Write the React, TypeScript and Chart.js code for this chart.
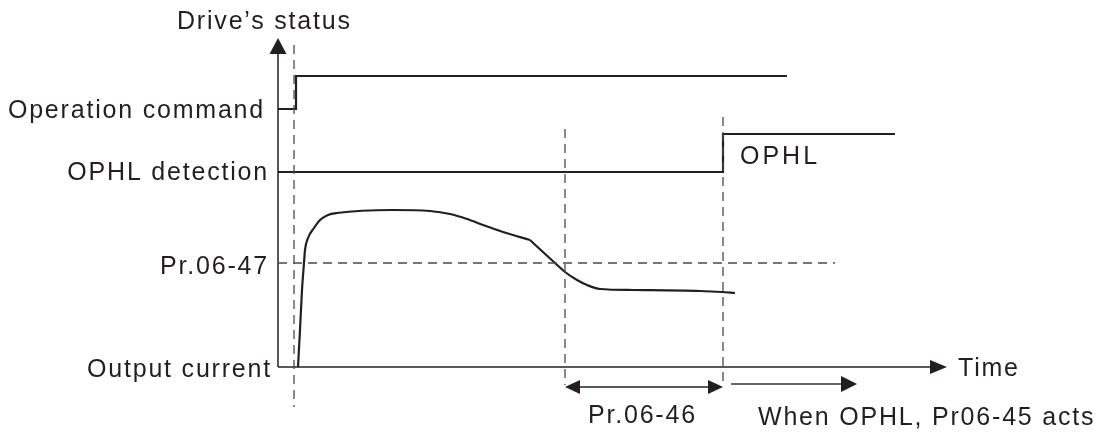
import React, { useEffect, useRef } from "react";
import { Chart, registerables } from "chart.js";

Chart.register(...registerables);

// ---- Data (schematic units: time from the origin of the time axis, level above it) ----
const opCmdTime = [0, 18, 18, 509];
const opCmdLevel = [258, 258, 291, 291];

const ophlTime = [0, 445, 445, 617];
const ophlLevel = [195, 195, 233, 233];

const riseTime = [20, 22, 24, 26, 27, 30, 36, 42, 50, 59, 115, 152, 172, 189, 205, 225, 252];
const riseCurrent = [0, 37, 77, 104, 117, 129, 139, 147, 152, 154, 157, 156, 153, 148, 142, 135, 127];

const fallTime = [252, 277, 287, 299, 309, 322, 355, 422, 444, 457];
const fallCurrent = [127, 104, 95, 87, 82, 78, 77, 76, 75, 74];

const thresholdLevel = 104; // Pr.06-47
const thresholdSpan = [0, 557];

const runTime = 16; // operation command
const detectTime = 287; // current below Pr.06-47
const tripTime = 445; // OPHL acts

const pr0646Span = [detectTime, tripTime];
const actSpan = [453, 579];

const timeAxisEnd = 669;
const statusAxisEnd = 329;

const labels = {
  status: "Drive\u2019s status",
  opCmd: "Operation command",
  ophlDet: "OPHL detection",
  pr0647: "Pr.06-47",
  current: "Output current",
  time: "Time",
  ophl: "OPHL",
  pr0646: "Pr.06-46",
  acts: "When OPHL, Pr06-45 acts",
};

// ---- Styles ----
const INK = "#231f20";
const DASH = "#4a4a4a";
const FONT = '25px "Liberation Sans", Arial, sans-serif';

const zip = (xs: number[], ys: number[]) => xs.map((x, i) => ({ x, y: ys[i] }));

function arrowHead(
  ctx: CanvasRenderingContext2D,
  tx: number,
  ty: number,
  angle: number,
  len: number,
  half: number,
  color: string
) {
  const c = Math.cos(angle);
  const s = Math.sin(angle);
  const bx = tx - c * len;
  const by = ty - s * len;
  ctx.beginPath();
  ctx.moveTo(tx, ty);
  ctx.lineTo(bx - s * half, by + c * half);
  ctx.lineTo(bx + s * half, by - c * half);
  ctx.closePath();
  ctx.fillStyle = color;
  ctx.fill();
}

const annotationPlugin = {
  id: "timingAnnotations",
  afterDatasetsDraw(chart: any) {
    const { ctx } = chart;
    const xs = chart.scales.x;
    const ys = chart.scales.y;
    const px = (v: number) => xs.getPixelForValue(v);
    const py = (v: number) => ys.getPixelForValue(v);
    ctx.save();

    // Axis arrowheads
    arrowHead(ctx, px(0), py(statusAxisEnd), -Math.PI / 2, 16, 8.5, INK);
    arrowHead(ctx, px(timeAxisEnd), py(0), 0, 17, 7, INK);

    // Pr.06-46 dimension arrow
    const yDim = py(-20);
    ctx.strokeStyle = INK;
    ctx.lineWidth = 1.6;
    ctx.beginPath();
    ctx.moveTo(px(pr0646Span[0]) + 10, yDim);
    ctx.lineTo(px(pr0646Span[1]) - 10, yDim);
    ctx.stroke();
    arrowHead(ctx, px(pr0646Span[0]), yDim, Math.PI, 15, 7, INK);
    arrowHead(ctx, px(pr0646Span[1]), yDim, 0, 15, 7, INK);

    // Action arrow
    const yAct = py(-17);
    ctx.strokeStyle = "#666";
    ctx.lineWidth = 1.8;
    ctx.beginPath();
    ctx.moveTo(px(actSpan[0]), yAct);
    ctx.lineTo(px(actSpan[1]) - 10, yAct);
    ctx.stroke();
    arrowHead(ctx, px(actSpan[1]), yAct, 0, 16, 8, INK);

    // Texts
    ctx.fillStyle = INK;
    ctx.font = FONT;
    (ctx as any).letterSpacing = "1.8px";
    ctx.textBaseline = "alphabetic";

    const text = (t: string, x: number, y: number, align: CanvasTextAlign) => {
      ctx.textAlign = align;
      ctx.fillText(t, px(x), py(y));
    };

    text(labels.status, -101, 338, "left");
    text(labels.opCmd, -13, 249, "right");
    text(labels.ophlDet, -9, 187, "right");
    text(labels.pr0647, -9, 93, "right");
    text(labels.current, -6, -10, "right");
    text(labels.time, 680, -9, "left");
    (ctx as any).letterSpacing = "3px";
    text(labels.ophl, 462, 203, "left");
    (ctx as any).letterSpacing = "1.8px";
    text(labels.pr0646, 310, -56, "left");
    text(labels.acts, 480, -58, "left");

    ctx.restore();
  },
};

export default function App() {
  const canvasRef = useRef<HTMLCanvasElement | null>(null);

  useEffect(() => {
    const canvas = canvasRef.current;
    if (!canvas) return;

    const signal = (data: { x: number; y: number }[], width = 2.2, color = INK) => ({
      data,
      showLine: true,
      borderColor: color,
      borderWidth: width,
      pointRadius: 0,
      fill: false,
      tension: 0,
    });
    const dashed = (data: { x: number; y: number }[]) => ({
      ...signal(data, 1.3, DASH),
      borderDash: [9, 6],
    });
    const curve = (data: { x: number; y: number }[]) => ({
      ...signal(data, 2.2),
      cubicInterpolationMode: "monotone" as const,
    });

    const chart = new Chart(canvas, {
      type: "scatter",
      data: {
        datasets: [
          // reference dashed lines
          dashed([{ x: runTime, y: 322 }, { x: runTime, y: -40 }]),
          dashed([{ x: detectTime, y: 238 }, { x: detectTime, y: -18 }]),
          dashed([{ x: tripTime, y: 250 }, { x: tripTime, y: -18 }]),
          dashed([
            { x: thresholdSpan[0], y: thresholdLevel },
            { x: thresholdSpan[1], y: thresholdLevel },
          ]),
          // axes
          signal([{ x: 0, y: 0 }, { x: 0, y: statusAxisEnd - 12 }], 1.5),
          signal([{ x: 0, y: 0 }, { x: timeAxisEnd - 12, y: 0 }], 1.5),
          // signals
          signal(zip(opCmdTime, opCmdLevel)),
          signal(zip(ophlTime, ophlLevel)),
          curve(zip(riseTime, riseCurrent)),
          curve(zip(fallTime, fallCurrent)),
        ] as any,
      },
      options: {
        animation: false,
        responsive: false,
        layout: { padding: 0 },
        plugins: {
          legend: { display: false },
          tooltip: { enabled: false },
        },
        scales: {
          x: { type: "linear", display: false, min: -278, max: 824 },
          y: { type: "linear", display: false, min: -66, max: 367 },
        },
      },
      plugins: [annotationPlugin],
    });

    return () => chart.destroy();
  }, []);

  return (
    <div
      style={{
        position: "fixed",
        left: 0,
        top: 0,
        width: 1102,
        height: 433,
        background: "#ffffff",
      }}
    >
      <canvas ref={canvasRef} width={1102} height={433} />
    </div>
  );
}
